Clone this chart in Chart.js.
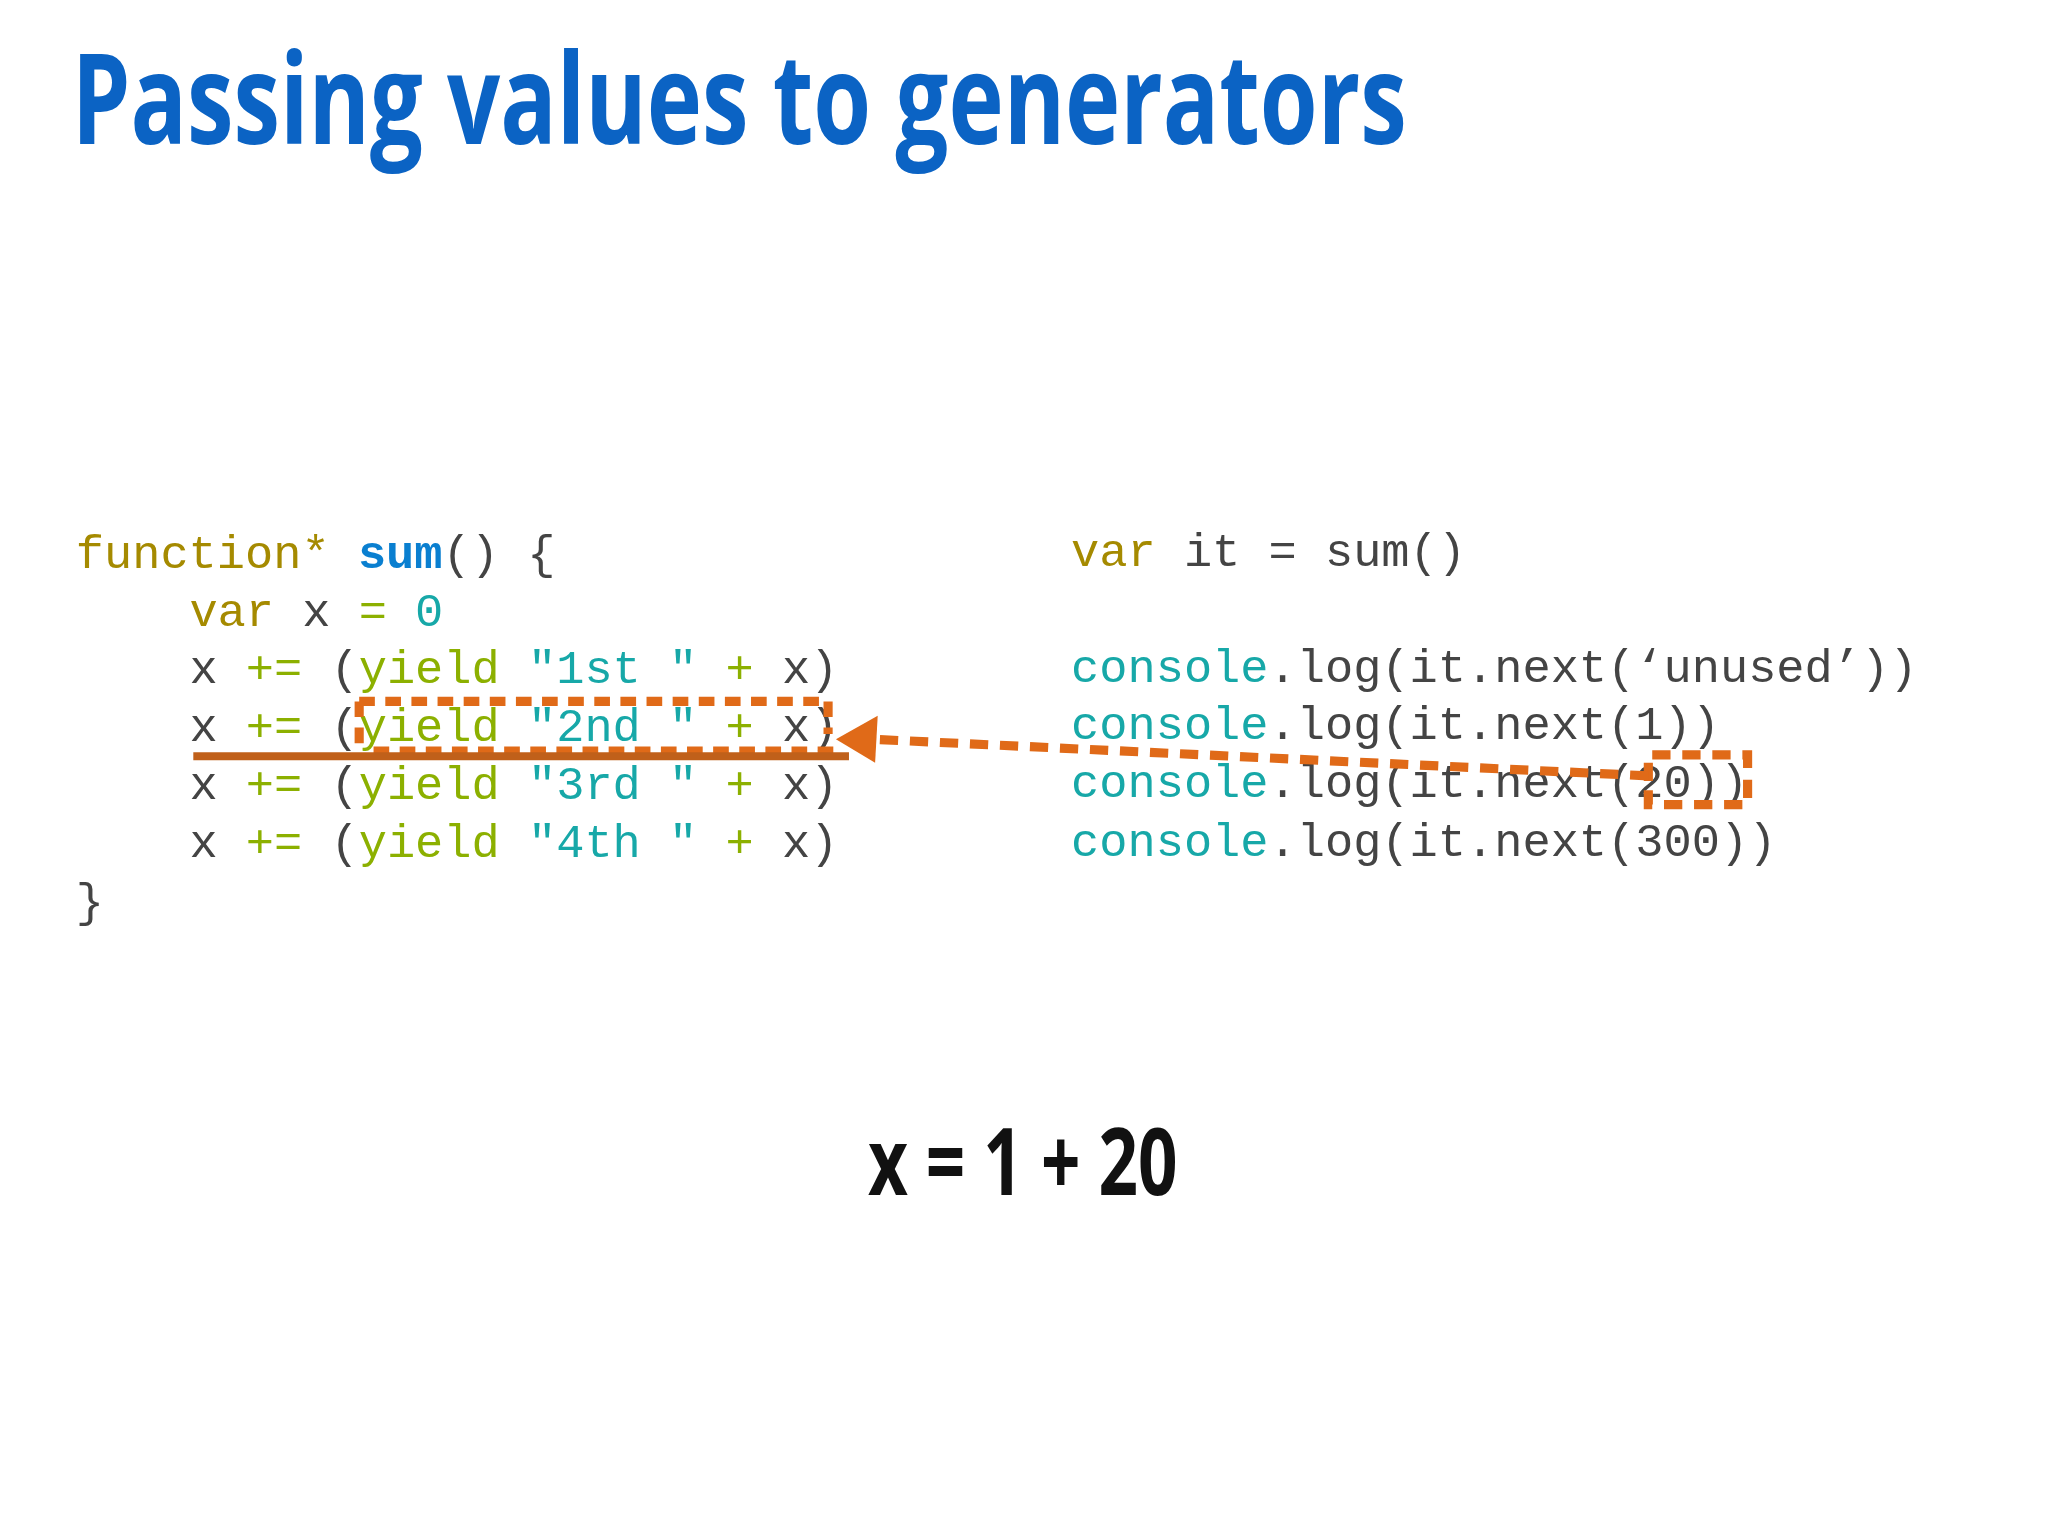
<!DOCTYPE html>
<html><head><meta charset="utf-8">
<script src="https://cdn.jsdelivr.net/npm/chart.js@4"></script>
<style>html,body{margin:0;padding:0;background:#fff;overflow:hidden}</style>
</head><body>
<canvas id="c" width="2048" height="1536"></canvas>
<script>
const titleText = "Passing values to generators";
const resultText = "x = 1 + 20";
// code lines: [x, y, tokens] — tokens are [text, colorKey]
const codeLeft = [
  [58, 435, [["function*","kw"],[" ","tx"],["sum","fn"],["() {","tx"]]],
  [145, 479, [["var","kw"],[" x ","tx"],["=","op"],[" ","tx"],["0","st"]]],
  [145, 523, [["x ","tx"],["+=","op"],[" (","tx"],["yield","op"],[" ","tx"],["\"1st \"","st"],[" ","tx"],["+","op"],[" x)","tx"]]],
  [145, 567, [["x ","tx"],["+=","op"],[" (","tx"],["yield","op"],[" ","tx"],["\"2nd \"","st"],[" ","tx"],["+","op"],[" x)","tx"]]],
  [145, 612, [["x ","tx"],["+=","op"],[" (","tx"],["yield","op"],[" ","tx"],["\"3rd \"","st"],[" ","tx"],["+","op"],[" x)","tx"]]],
  [145, 656, [["x ","tx"],["+=","op"],[" (","tx"],["yield","op"],[" ","tx"],["\"4th \"","st"],[" ","tx"],["+","op"],[" x)","tx"]]],
  [58, 701, [["}","tx"]]]
];
const codeRight = [
  [820, 433, [["var","kw"],[" it = sum()","tx"]]],
  [820, 522, [["console","st"],[".log(it.next(\u2018unused\u2019))","tx"]]],
  [820, 566, [["console","st"],[".log(it.next(1))","tx"]]],
  [820, 610, [["console","st"],[".log(it.next(20))","tx"]]],
  [820, 655, [["console","st"],[".log(it.next(300))","tx"]]]
];
const colors = {kw:"#a58a00", fn:"#0a7fd0", tx:"#444444", op:"#8cb000", st:"#17a8a8"};
// annotation paths (slide coordinates)
const boxTop = [{x:275,y:537},{x:632,y:537}];
const boxLeft = [{x:275,y:537},{x:275,y:570}];
const boxRight = [{x:634,y:537},{x:634,y:562}];
const boxBottom = [{x:286,y:575},{x:640,y:575}];
const underline = [{x:148,y:579},{x:650,y:579}];
const arrowPath = [{x:1262,y:594},{x:668,y:566}];
const arrowTip = {x:640,y:566};
const smallBox = [{x:1262,y:598},{x:1262,y:578},{x:1338,y:578},{x:1338,y:616},{x:1262,y:616},{x:1262,y:602}];

const S = 2048/1568;
const orange = "#e06a18";
function ds(data, color, dash, w){
  return {data, borderColor:color, borderWidth:w*S, borderDash:dash?dash.map(v=>v*S):[], showLine:true, pointRadius:0, fill:false, tension:0};
}
const textPlugin = {
  id:'slideText',
  beforeDatasetsDraw(chart){
    const ctx = chart.ctx, xs = chart.scales.x, ys = chart.scales.y;
    ctx.save();
    ctx.fillStyle = "#0b63c4";
    ctx.font = "bold " + (96*S) + "px 'Open Sans'";
    ctx.textBaseline = "alphabetic";
    ctx.fillText(titleText, xs.getPixelForValue(55), ys.getPixelForValue(110), (1077-55)*S);
    const drawCode = (lines) => {
      lines.forEach(([x,y,toks])=>{
        let px = xs.getPixelForValue(x);
        const py = ys.getPixelForValue(y);
        toks.forEach(([t,c])=>{
          ctx.font = (c==="fn"?"bold ":"") + (36*S) + "px 'Liberation Mono'";
          ctx.fillStyle = colors[c];
          ctx.fillText(t, px, py);
          px += ctx.measureText(t).width;
        });
      });
    };
    drawCode(codeLeft); drawCode(codeRight);
    ctx.fillStyle = "#111";
    ctx.font = "bold " + (72*S) + "px 'Open Sans'";
    ctx.textAlign = "center";
    ctx.fillText(resultText, xs.getPixelForValue(783), ys.getPixelForValue(915), (902-665)*S);
    ctx.restore();
  },
  afterDatasetsDraw(chart){
    const ctx = chart.ctx, xs = chart.scales.x, ys = chart.scales.y;
    const tx = xs.getPixelForValue(arrowTip.x), ty = ys.getPixelForValue(arrowTip.y);
    ctx.save(); ctx.fillStyle = orange; ctx.beginPath();
    ctx.moveTo(tx,ty);
    ctx.lineTo(xs.getPixelForValue(672), ys.getPixelForValue(548));
    ctx.lineTo(xs.getPixelForValue(670), ys.getPixelForValue(584));
    ctx.closePath(); ctx.fill(); ctx.restore();
  }
};
new Chart(document.getElementById('c'), {
  type:'scatter',
  data:{datasets:[
    ds(underline,"#c0601a",null,6),
    ds(boxTop,orange,[12,8],7), ds(boxLeft,orange,[12,8],7), ds(boxRight,orange,[12,8],7), ds(boxBottom,orange,[12,8],7),
    ds(arrowPath,orange,[14,9],7), ds(smallBox,orange,[14,9],7)
  ]},
  options:{
    responsive:false, devicePixelRatio:1, animation:false,
    layout:{padding:0},
    plugins:{legend:{display:false}, tooltip:{enabled:false}},
    scales:{
      x:{type:'linear', min:0, max:1568, display:false},
      y:{type:'linear', min:0, max:1176, reverse:true, display:false}
    }
  },
  plugins:[textPlugin]
});
</script>
</body></html>
